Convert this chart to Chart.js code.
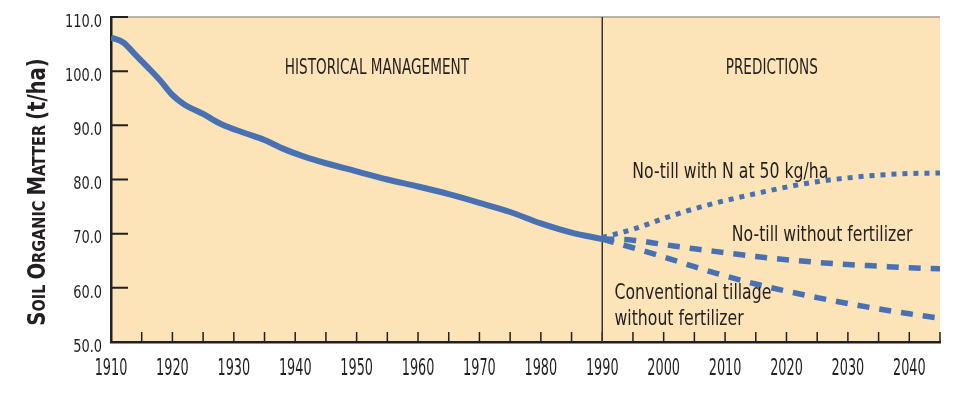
<!DOCTYPE html>
<html>
<head>
<meta charset="utf-8">
<script src="https://cdn.jsdelivr.net/npm/chart.js@4.4.1/dist/chart.umd.min.js"></script>
<style>
  html, body { margin: 0; padding: 0; background: #ffffff; }
  #som-chart { display: block; }
</style>
</head>
<body>
<canvas id="som-chart" width="955" height="393"></canvas>
<script>
// Soil organic matter (t/ha)
const histYears = [1910, 1912, 1914, 1916, 1918, 1920, 1922, 1925, 1928, 1932, 1935, 1938, 1941, 1945, 1950, 1955, 1960, 1965, 1970, 1975, 1980, 1985, 1990];
const histSOM = [106.2, 105.3, 103.0, 100.7, 98.3, 95.6, 93.8, 92.1, 90.2, 88.5, 87.3, 85.7, 84.4, 83.0, 81.5, 80.0, 78.7, 77.3, 75.7, 74.0, 71.9, 70.2, 69.0];

const predYears = [1990, 1995, 2000, 2005, 2010, 2015, 2020, 2025, 2030, 2035, 2040, 2045];
const noTillN = [69.3, 70.8, 72.8, 74.6, 76.1, 77.4, 78.6, 79.6, 80.3, 80.8, 81.1, 81.2];
const noTillNoFert = [69.0, 68.8, 68.0, 67.2, 66.5, 65.8, 65.2, 64.7, 64.3, 64.0, 63.7, 63.5];
const convTill = [69.0, 67.4, 65.7, 63.9, 62.2, 60.7, 59.4, 58.2, 57.1, 56.1, 55.2, 54.4];

const yearTicks = [1910, 1920, 1930, 1940, 1950, 1960, 1970, 1980, 1990, 2000, 2010, 2020, 2030, 2040];
const somTicks = [50, 60, 70, 80, 90, 100, 110];

const INK = "#231f20";
const LINE = "#4771b2";
const FONT = "'Liberation Sans Narrow', 'DejaVu Sans Condensed', 'Liberation Sans', sans-serif";

function pts(xs, ys) {
    return xs.map((x, i) => ({ x: x, y: ys[i] }));
}

// the figure uses a very narrow face, so text is squeezed horizontally
function squeezed(ctx, text, x, y, font, squeeze, align) {
    ctx.save();
    ctx.font = font;
    const w = ctx.measureText(text).width * squeeze;
    let left = x;
    if (align === "center") left = x - w / 2;
    if (align === "right") left = x - w;
    ctx.translate(left, y);
    ctx.scale(squeeze, 1);
    ctx.textAlign = "left";
    ctx.textBaseline = "middle";
    ctx.fillStyle = INK;
    ctx.fillText(text, 0, 0);
    ctx.restore();
}

const figureDecor = {
    id: "figureDecor",
    beforeDraw(chart) {
        const { ctx, chartArea: a } = chart;
        ctx.save();
        ctx.fillStyle = "#fde3b8";
        ctx.fillRect(a.left, a.top, a.right - a.left, a.bottom - a.top);
        ctx.restore();
    },
    beforeDatasetsDraw(chart) {
        const { ctx, chartArea: a, scales: { x, y } } = chart;
        ctx.save();
        // thin rule along the top
        ctx.strokeStyle = "#a39c8c";
        ctx.lineWidth = 1.5;
        ctx.beginPath();
        ctx.moveTo(a.left, a.top);
        ctx.lineTo(a.right, a.top);
        ctx.stroke();

        ctx.strokeStyle = INK;
        // inner tick marks every 5 years
        ctx.lineWidth = 1.5;
        ctx.beginPath();
        for (let yr = 1915; yr <= 2045; yr += 5) {
            const px = x.getPixelForValue(yr);
            ctx.moveTo(px, a.bottom);
            ctx.lineTo(px, a.bottom - 10);
        }
        ctx.stroke();

        // inner tick marks on the value axis
        ctx.lineWidth = 2;
        ctx.beginPath();
        for (const t of y.ticks) {
            if (t.value === y.min) continue;
            const py = y.getPixelForValue(t.value);
            ctx.moveTo(a.left, py);
            ctx.lineTo(a.left + 17, py);
        }
        ctx.stroke();

        // divider between history and predictions
        ctx.lineWidth = 1.5;
        ctx.strokeStyle = "#3a3431";
        const dx = x.getPixelForValue(1990);
        ctx.beginPath();
        ctx.moveTo(dx, a.top);
        ctx.lineTo(dx, a.bottom);
        ctx.stroke();
        ctx.restore();
    },
    afterDraw(chart) {
        const { ctx, chartArea: a, scales: { x, y } } = chart;

        // tick labels
        for (const t of x.ticks) {
            squeezed(ctx, String(t.value), x.getPixelForValue(t.value), a.bottom + 27, "23px " + FONT, 0.62, "center");
        }
        for (const t of y.ticks) {
            squeezed(ctx, t.value.toFixed(1), a.left - 9, y.getPixelForValue(t.value) + 5, "18px " + FONT, 0.8, "right");
        }

        squeezed(ctx, "HISTORICAL MANAGEMENT", x.getPixelForValue(1953.3), y.getPixelForValue(100.5), "21px " + FONT, 0.72, "center");
        squeezed(ctx, "PREDICTIONS", x.getPixelForValue(2017.6), y.getPixelForValue(100.5), "21px " + FONT, 0.72, "center");

        squeezed(ctx, "No-till with N at 50 kg/ha", x.getPixelForValue(1994.9), y.getPixelForValue(81.2), "21px " + FONT, 0.83, "left");
        squeezed(ctx, "No-till without fertilizer", x.getPixelForValue(2011.1), y.getPixelForValue(69.7), "21px " + FONT, 0.83, "left");
        squeezed(ctx, "Conventional tillage", x.getPixelForValue(1992.0), y.getPixelForValue(59.0), "21px " + FONT, 0.83, "left");
        squeezed(ctx, "without fertilizer", x.getPixelForValue(1992.0), y.getPixelForValue(54.1), "21px " + FONT, 0.83, "left");

        // small-caps axis title, drawn piece by piece
        const parts = [
            ["S", 25], ["OIL ", 18.5], ["O", 25], ["RGANIC ", 18.5],
            ["M", 25], ["ATTER ", 18.5], ["(t/ha)", 25]
        ];
        ctx.save();
        ctx.fillStyle = INK;
        ctx.textBaseline = "alphabetic";
        ctx.textAlign = "left";
        let total = 0;
        for (const [t, s] of parts) {
            ctx.font = "bold " + s + "px " + FONT;
            total += ctx.measureText(t).width;
        }
        ctx.translate(45, 192);
        ctx.rotate(-Math.PI / 2);
        ctx.scale(0.87, 1);
        let cx = -total / 2;
        for (const [t, s] of parts) {
            ctx.font = "bold " + s + "px " + FONT;
            ctx.fillText(t, cx, 0);
            cx += ctx.measureText(t).width;
        }
        ctx.restore();
    }
};

new Chart(document.getElementById("som-chart").getContext("2d"), {
    type: "line",
    data: {
        datasets: [
            {
                label: "Historical management",
                data: pts(histYears, histSOM),
                borderColor: LINE,
                borderWidth: 6,
                pointRadius: 0,
                cubicInterpolationMode: "monotone"
            },
            {
                label: "No-till with N at 50 kg/ha",
                data: pts(predYears, noTillN),
                borderColor: LINE,
                borderWidth: 5,
                borderDash: [5, 6],
                pointRadius: 0,
                cubicInterpolationMode: "monotone"
            },
            {
                label: "No-till without fertilizer",
                data: pts(predYears, noTillNoFert),
                borderColor: LINE,
                borderWidth: 5.5,
                borderDash: [12, 10],
                pointRadius: 0,
                cubicInterpolationMode: "monotone"
            },
            {
                label: "Conventional tillage without fertilizer",
                data: pts(predYears, convTill),
                borderColor: LINE,
                borderWidth: 5.5,
                borderDash: [12, 10],
                pointRadius: 0,
                cubicInterpolationMode: "monotone"
            }
        ]
    },
    options: {
        responsive: false,
        animation: false,
        layout: {
            padding: { left: 65, right: 15, top: 17, bottom: 14 }
        },
        scales: {
            x: {
                type: "linear",
                min: 1910,
                max: 2045,
                afterBuildTicks: (s) => { s.ticks = yearTicks.map(v => ({ value: v })); },
                afterFit: (s) => { s.height = 37; },
                grid: { display: false, drawTicks: false },
                border: { display: true, color: INK, width: 2.5 },
                ticks: { display: false }
            },
            y: {
                min: 50,
                max: 110,
                afterBuildTicks: (s) => { s.ticks = somTicks.map(v => ({ value: v })); },
                afterFit: (s) => { s.width = 46; },
                grid: { display: false, drawTicks: false },
                border: { display: true, color: INK, width: 2.5 },
                ticks: { display: false }
            }
        },
        plugins: {
            legend: { display: false },
            tooltip: { enabled: false }
        }
    },
    plugins: [figureDecor]
});
</script>
</body>
</html>
